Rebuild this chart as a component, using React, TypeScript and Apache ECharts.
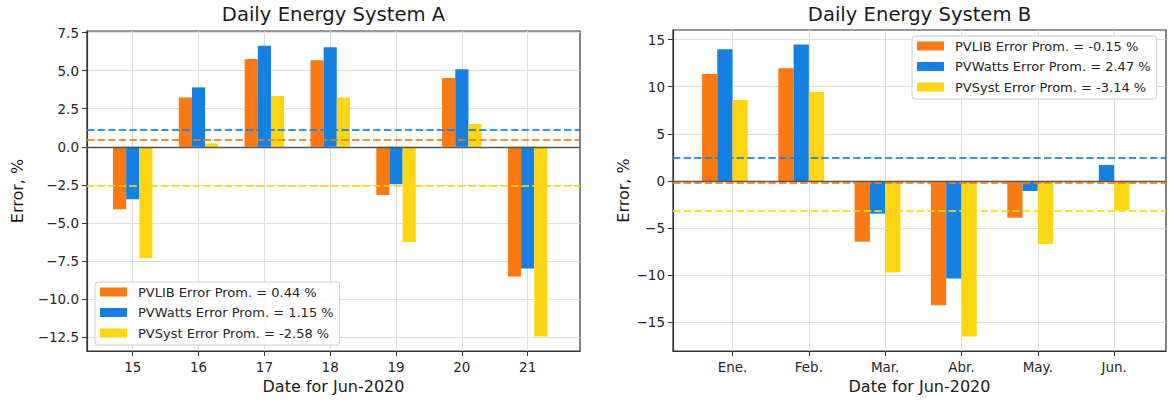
import React, { useEffect, useRef } from "react";
import * as echarts from "echarts";

// System A: daily error per model, June 2020
const days = [15, 16, 17, 18, 19, 20, 21];
const pvlibA = [-4.1, 3.24, 5.77, 5.68, -3.16, 4.52, -8.51];
const pvwattsA = [-3.44, 3.9, 6.64, 6.53, -2.46, 5.09, -7.98];
const pvsystA = [-7.32, 0.22, 3.33, 3.24, -6.25, 1.49, -12.45];
const meansA = [0.44, 1.15, -2.58];
const yTicksA = [-12.5, -10, -7.5, -5, -2.5, 0, 2.5, 5, 7.5];

// System B: monthly error per model
const months = ["Ene.", "Feb.", "Mar.", "Abr.", "May.", "Jun."];
const pvlibB = [11.35, 11.95, -6.45, -13.2, -3.9, -0.1];
const pvwattsB = [13.97, 14.47, -3.47, -10.35, -1.06, 1.7];
const pvsystB = [8.6, 9.43, -9.72, -16.5, -6.7, -3.12];
const meansB = [-0.15, 2.47, -3.14];
const yTicksB = [-15, -10, -5, 0, 5, 10, 15];

const modelNames = ["PVLIB", "PVWatts", "PVSyst"];
const colors = ["#F97913", "#1680E1", "#FDD613"];

const FONT = "DejaVu Sans";
const TEXT = "#262626";
const minus = (s: string) => s.replace("-", "\u2212");

const legendLabel = (model: string, mean: number) =>
  `${model} Error Prom. = ${mean.toFixed(2)} %`;

function barSeries(
  name: string,
  color: string,
  xs: number[],
  ys: number[],
  mean: number,
  axisIndex: number,
  withZero: boolean
) {
  const lines: any[] = [];
  if (withZero) {
    lines.push({
      yAxis: 0,
      lineStyle: { color: "#555555", type: "solid", width: 1.3, opacity: 1 },
    });
  }
  lines.push({ yAxis: mean });
  return {
    type: "bar",
    name,
    xAxisIndex: axisIndex,
    yAxisIndex: axisIndex,
    data: xs.map((x, i) => [x, ys[i]]),
    barWidth: "20%",
    barGap: "0%",
    itemStyle: { color },
    markLine: {
      silent: true,
      symbol: ["none", "none"],
      label: { show: false },
      lineStyle: { color, type: [7.4, 3.2], width: 2, opacity: 0.85 },
      data: lines,
    },
  };
}

function commonAxisStyle() {
  return {
    axisLine: { show: true, onZero: false, lineStyle: { color: "#333333", width: 1.2 } },
    axisTick: { show: true, length: 5, lineStyle: { color: "#333333", width: 1 } },
    splitLine: { show: true, lineStyle: { color: "#dddddd", width: 1 } },
  };
}

export default function App() {
  const ref = useRef<HTMLDivElement>(null);

  useEffect(() => {
    if (!ref.current) return;
    const chart = echarts.init(ref.current, null, { renderer: "svg" });

    // bar groups in system B sit slightly left of each month tick
    const groupShiftB = -0.1;
    const xsA = days;
    const xsB = months.map((_, i) => i + 1 + groupShiftB);

    const namesA = modelNames.map((m, i) => legendLabel(m, meansA[i]));
    const namesB = modelNames.map((m, i) => legendLabel(m, meansB[i]));

    const legendBase = {
      orient: "vertical",
      icon: "rect",
      itemWidth: 27,
      itemHeight: 9,
      itemGap: 6.5,
      padding: [3, 6, 5, 5],
      backgroundColor: "rgba(255,255,255,0.85)",
      borderColor: "#cccccc",
      borderWidth: 1,
      borderRadius: 3,
      selectedMode: false,
      textStyle: {
        fontFamily: FONT,
        fontSize: 13,
        color: TEXT,
        lineHeight: 14,
        padding: [0, 0, 0, 6],
      },
    };

    const axisNameStyle = { fontFamily: FONT, fontSize: 16, color: "#1a1a1a" };
    const tickLabelStyle = { fontFamily: FONT, fontSize: 13.5, color: TEXT };

    chart.setOption({
      animation: false,
      backgroundColor: "#ffffff",
      grid: [
        {
          left: 87, top: 31, width: 493, height: 320,
          show: true, borderColor: "#333333", borderWidth: 1.2, containLabel: false,
        },
        {
          left: 673, top: 30, width: 493, height: 321,
          show: true, borderColor: "#333333", borderWidth: 1.2, containLabel: false,
        },
      ],
      xAxis: [
        {
          type: "value",
          gridIndex: 0,
          min: 14.305,
          max: 21.795,
          ...commonAxisStyle(),
          axisTick: { show: true, length: 5, customValues: days, lineStyle: { color: "#333333" } },
          axisLabel: {
            ...tickLabelStyle,
            margin: 9,
            customValues: days,
            formatter: (v: number) => String(v),
          },
          name: "Date for Jun-2020",
          nameLocation: "middle",
          nameGap: 27,
          nameTextStyle: axisNameStyle,
        },
        {
          type: "value",
          gridIndex: 1,
          min: 0.22,
          max: 6.68,
          ...commonAxisStyle(),
          axisTick: {
            show: true, length: 5,
            customValues: months.map((_, i) => i + 1),
            lineStyle: { color: "#333333" },
          },
          axisLabel: {
            ...tickLabelStyle,
            margin: 9,
            customValues: months.map((_, i) => i + 1),
            formatter: (v: number) => months[Math.round(v) - 1] ?? "",
          },
          name: "Date for Jun-2020",
          nameLocation: "middle",
          nameGap: 27,
          nameTextStyle: axisNameStyle,
        },
      ],
      yAxis: [
        {
          type: "value",
          gridIndex: 0,
          min: -13.4,
          max: 7.6,
          ...commonAxisStyle(),
          axisTick: { show: true, length: 5, customValues: yTicksA, lineStyle: { color: "#333333" } },
          axisLabel: {
            ...tickLabelStyle,
            margin: 8,
            customValues: yTicksA,
            formatter: (v: number) => minus(v.toFixed(1)),
          },
          name: "Error, %",
          nameLocation: "middle",
          nameGap: 62,
          nameTextStyle: axisNameStyle,
        },
        {
          type: "value",
          gridIndex: 1,
          min: -18.05,
          max: 16.02,
          ...commonAxisStyle(),
          axisTick: { show: true, length: 5, customValues: yTicksB, lineStyle: { color: "#333333" } },
          axisLabel: {
            ...tickLabelStyle,
            margin: 8,
            customValues: yTicksB,
            formatter: (v: number) => minus(v.toFixed(0)),
          },
          name: "Error, %",
          nameLocation: "middle",
          nameGap: 42,
          nameTextStyle: axisNameStyle,
        },
      ],
      legend: [
        { ...legendBase, left: 95, top: 282, data: namesA },
        { ...legendBase, left: 912, top: 36, data: namesB },
      ],
      graphic: [
        {
          type: "text",
          x: 333.5,
          y: 14,
          style: {
            text: "Daily Energy System A",
            fontFamily: FONT,
            fontSize: 19.6,
            fill: "#1a1a1a",
            align: "center",
            verticalAlign: "middle",
          },
        },
        {
          type: "text",
          x: 919.5,
          y: 14,
          style: {
            text: "Daily Energy System B",
            fontFamily: FONT,
            fontSize: 19.6,
            fill: "#1a1a1a",
            align: "center",
            verticalAlign: "middle",
          },
        },
      ],
      series: [
        barSeries(namesA[0], colors[0], xsA, pvlibA, meansA[0], 0, true),
        barSeries(namesA[1], colors[1], xsA, pvwattsA, meansA[1], 0, false),
        barSeries(namesA[2], colors[2], xsA, pvsystA, meansA[2], 0, false),
        barSeries(namesB[0], colors[0], xsB, pvlibB, meansB[0], 1, true),
        barSeries(namesB[1], colors[1], xsB, pvwattsB, meansB[1], 1, false),
        barSeries(namesB[2], colors[2], xsB, pvsystB, meansB[2], 1, false),
      ],
    });

    return () => chart.dispose();
  }, []);

  return (
    <div
      ref={ref}
      style={{ position: "fixed", left: 0, top: 0, width: 1169, height: 404 }}
    />
  );
}
